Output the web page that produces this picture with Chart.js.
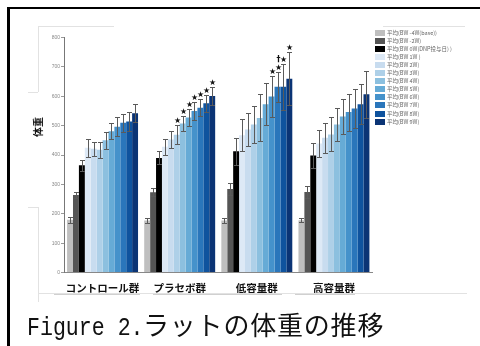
<!DOCTYPE html>
<html>
<head>
<meta charset="utf-8">
<script src="https://cdn.jsdelivr.net/npm/chart.js@4"></script>
<style>
  html, body { margin: 0; padding: 0; background: #fff; }
  #wrap { position: relative; width: 480px; height: 346px; overflow: hidden; background: #fff; }
  #c { position: absolute; left: 0; top: 0; }
  .rule { position: absolute; background: #e2e2e2; }
  .rule.mid { background: #d0d0d0; }
  .frame { position: absolute; background: #000; }
  #ytitle {
    position: absolute; left: 37px; top: 127px;
    transform: translate(-50%, -50%) rotate(-90deg);
    font: bold 10px "Noto Sans CJK JP", sans-serif; color: #111; white-space: nowrap;
  }
  #legend { position: absolute; left: 375px; top: 0; }
  .lg-row { position: absolute; left: 0; height: 6px; white-space: nowrap; }
  .lg-box { position: absolute; left: 0; top: 0; width: 10px; height: 6px; }
  .lg-text {
    position: absolute; left: 12px; top: -2px;
    font: 5.5px "Noto Sans CJK JP", sans-serif; color: #666; line-height: 10px;
  }
  #caption {
    position: absolute; left: 27px; top: 306px; white-space: nowrap;
    font: 26px "Noto Sans CJK JP", sans-serif; color: #111; line-height: 36px;
  }
  #caption .lat {
    display: inline-block; font-family: "Liberation Mono", monospace;
    transform: scaleX(0.83); transform-origin: left center; width: 116px;
  }
  #caption .jp { letter-spacing: 0.8px; }
</style>
</head>
<body>
<div id="wrap">
  <canvas id="c" width="480" height="346"></canvas>

  <!-- page frame -->
  <div class="frame" style="left:7px; top:7px; width:473px; height:2px;"></div>
  <div class="frame" style="left:7px; top:7px; width:3px; height:339px;"></div>

  <!-- faint layout rules -->
  <div class="rule" style="left:38px; top:26px; width:76px; height:1px;"></div>
  <div class="rule" style="left:38px; top:26px; width:1px; height:66px;"></div>
  <div class="rule" style="left:28px; top:92px; width:10px; height:1px;"></div>
  <div class="rule" style="left:28px; top:207px; width:10px; height:1px;"></div>
  <div class="rule" style="left:38px; top:207px; width:1px; height:95px;"></div>
  <div class="rule" style="left:383px; top:26px; width:82px; height:1px;"></div>
  <div class="rule" style="left:38px; top:293px; width:429px; height:1px;"></div>
  <div class="rule mid" style="left:54px; top:294px; width:86px; height:1px;"></div>
  <div class="rule mid" style="left:153px; top:294px; width:129px; height:1px;"></div>
  <div class="rule mid" style="left:295px; top:294px; width:60px; height:1px;"></div>

  <div id="ytitle">体重</div>
  <div id="legend"></div>
  <div id="caption"><span class="lat">Figure 2.</span><span class="jp">ラットの体重の推移</span></div>
</div>

<script>
// Groups on the x axis
const groups = ['コントロール群', 'プラセボ群', '低容量群', '高容量群'];

// One series per measurement week
const weekLabels = [
  '平均(BW -4W(base))', '平均(BW -2W)', '平均(BW 0W(DNP投与日) )', '平均(BW 1W )',
  '平均(BW 2W)', '平均(BW 3W)', '平均(BW 4W)', '平均(BW 5W)',
  '平均(BW 6W)', '平均(BW 7W)', '平均(BW 8W)', '平均(BW 9W)'
];
const weekColors = [
  '#bfbfbf', '#555555', '#000000', '#dde9f6',
  '#c8dcef', '#aed0e8', '#8cc0df', '#66abd6',
  '#4592cb', '#2a76bb', '#0f539e', '#0b3475'
];

// Mean body weight (g) per week, by group
const meanControl = [180, 264, 365, 425, 421, 418, 450, 481, 496, 510, 514, 542];
const meanPlacebo = [177, 273, 390, 428, 453, 469, 507, 528, 550, 561, 576, 601];
const meanLow     = [177, 284, 413, 467, 487, 504, 526, 573, 599, 632, 632, 660];
const meanHigh    = [178, 274, 398, 439, 459, 470, 504, 531, 546, 558, 573, 607];

// Standard deviation per week, by group
const sdControl = [10, 9, 18, 31, 23, 27, 28, 28, 32, 31, 31, 31];
const sdPlacebo = [9, 13, 22, 28, 30, 32, 26, 28, 31, 28, 28, 31];
const sdLow     = [9, 19, 46, 54, 57, 62, 80, 71, 71, 50, 78, 90];
const sdHigh    = [7, 21, 42, 47, 51, 58, 57, 60, 63, 67, 68, 80];

// Significance marks per week, by group
const marksControl = ['', '', '', '', '', '', '', '', '', '', '', ''];
const marksPlacebo = ['', '', '', '', '', '★', '★', '★', '★', '★', '★', '★'];
const marksLow     = ['', '', '', '', '', '', '', '', '★', '†★', '★', '★'];
const marksHigh    = ['', '', '', '', '', '', '', '', '', '', '', ''];

const yTicks = [0, 100, 200, 300, 400, 500, 600, 700, 800];

const means = [meanControl, meanPlacebo, meanLow, meanHigh];
const sds = [sdControl, sdPlacebo, sdLow, sdHigh];
const marks = [marksControl, marksPlacebo, marksLow, marksHigh];

const datasets = weekLabels.map((label, w) => ({
  label,
  data: means.map(g => g[w]),
  sd: sds.map(g => g[w]),
  marks: marks.map(g => g[w]),
  backgroundColor: weekColors[w],
  borderWidth: 0,
  categoryPercentage: 0.92,
  barPercentage: 1.0
}));

// Whiskers (mean ± SD) and significance marks above them
const errorBars = {
  id: 'errorBars',
  afterDatasetsDraw(chart) {
    const { ctx } = chart;
    const y = chart.scales.y;
    ctx.save();
    chart.data.datasets.forEach((ds, i) => {
      const meta = chart.getDatasetMeta(i);
      meta.data.forEach((bar, j) => {
        const m = ds.data[j], s = ds.sd[j];
        const top = Math.round(y.getPixelForValue(m + s)) + 0.5;
        const bot = Math.round(y.getPixelForValue(m - s)) + 0.5;
        const x = Math.round(bar.x) + 0.5;
        ctx.strokeStyle = '#5a5a5a';
        ctx.lineWidth = 1;
        ctx.beginPath();
        ctx.moveTo(x, top); ctx.lineTo(x, bot);
        ctx.moveTo(x - 2.5, top); ctx.lineTo(x + 2.5, top);
        ctx.moveTo(x - 2.5, bot); ctx.lineTo(x + 2.5, bot);
        ctx.stroke();
        const mk = ds.marks[j];
        if (mk) {
          ctx.fillStyle = '#111';
          ctx.textAlign = 'center';
          ctx.textBaseline = 'bottom';
          const chars = Array.from(mk).reverse();
          chars.forEach((ch, k) => {
            ctx.font = ch === '†' ? 'bold 8px "DejaVu Sans"' : '8px "DejaVu Sans"';
            ctx.fillText(ch, x, top - 1 - k * 8);
          });
        }
      });
    });
    ctx.restore();
  }
};

const chart = new Chart(document.getElementById('c'), {
  type: 'bar',
  data: { labels: groups, datasets },
  options: {
    responsive: false,
    animation: false,
    devicePixelRatio: 1,
    layout: { padding: { left: 31, right: 107.5, top: 37.5, bottom: 48.5 } },
    plugins: {
      legend: { display: false },
      tooltip: { enabled: false }
    },
    scales: {
      x: {
        grid: { display: false, drawTicks: false },
        border: { display: true, color: '#888', width: 1 },
        ticks: {
          padding: 9,
          color: '#111',
          autoSkip: false,
          maxRotation: 0,
          minRotation: 0,
          font: { family: '"Noto Sans CJK JP"', size: 10.5, weight: 'bold' }
        },
        afterFit(scale) { scale.height = 25; }
      },
      y: {
        min: 0,
        max: 800,
        afterBuildTicks(scale) { scale.ticks = yTicks.map(v => ({ value: v })); },
        grid: { display: true, drawOnChartArea: false, drawTicks: true, tickLength: 3, color: '#999' },
        border: { display: true, color: '#777', width: 1 },
        ticks: {
          padding: 1,
          color: '#888',
          font: { family: '"Liberation Sans"', size: 5 }
        },
        afterFit(scale) { scale.width = 33; }
      }
    }
  },
  plugins: [errorBars]
});

// Legend rows built from the chart's own legend items
const legendEl = document.getElementById('legend');
chart.options.plugins.legend.labels.generateLabels(chart).forEach((item, i) => {
  const row = document.createElement('div');
  row.className = 'lg-row';
  row.style.top = (29.5 + i * 8.1) + 'px';
  const box = document.createElement('div');
  box.className = 'lg-box';
  box.style.background = item.fillStyle;
  const txt = document.createElement('div');
  txt.className = 'lg-text';
  txt.textContent = item.text;
  row.appendChild(box);
  row.appendChild(txt);
  legendEl.appendChild(row);
});
</script>
</body>
</html>
